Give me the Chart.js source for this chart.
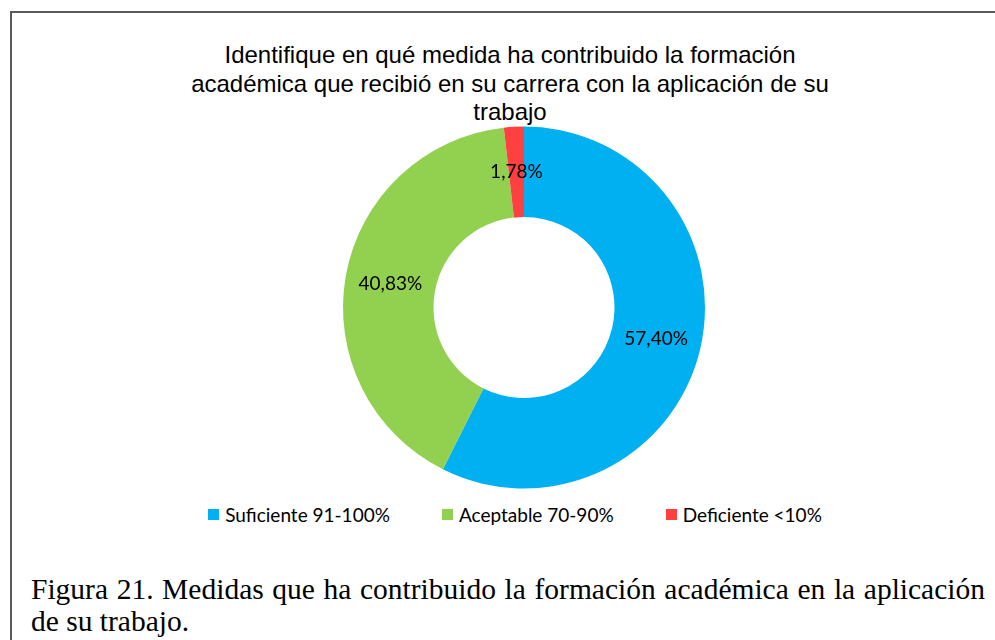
<!DOCTYPE html>
<html>
<head>
<meta charset="utf-8">
<script src="https://cdn.jsdelivr.net/npm/chart.js@4"></script>
<style>
  html, body { margin: 0; padding: 0; background: #fff; overflow: hidden; width: 995px; height: 640px; }
  #frame { position: absolute; left: 10px; top: 11px; width: 1100px; height: 800px; border: 2px solid #5a5a5a; box-sizing: border-box; }
  #titulo { position: absolute; left: 10px; top: 41px; width: 1000px; text-align: center;
            font: 24px "Liberation Sans", Arial, sans-serif; line-height: 28.5px; color: #000; }
  #wrap { position: absolute; left: 24px; top: 120px; width: 1000px; height: 375px; }
  #leyenda { position: absolute; left: 0; top: 503px; width: 1030px; display: flex; justify-content: center;
             font: 19px Lato, sans-serif; color: #000; }
  #leyenda .item { display: flex; align-items: center; margin: 0 26px; }
  #leyenda .box { width: 11px; height: 11px; margin-right: 6px; }
  #caption { position: absolute; left: 31px; top: 573px; width: 954px;
             font: 29.5px "Liberation Serif", "Times New Roman", serif; line-height: 32px; color: #000; }
  #caption .l1 { text-align: justify; text-align-last: justify; }
</style>
</head>
<body>
<div id="frame"></div>
<div id="titulo">Identifique en qué medida ha contribuido la formación<br>académica que recibió en su carrera con la aplicación de su<br>trabajo</div>
<div id="wrap"><canvas id="dona"></canvas></div>
<div id="leyenda"></div>
<div id="caption">
  <div class="l1">Figura 21. Medidas que ha contribuido la formación académica en la aplicación</div>
  <div>de su trabajo.</div>
</div>
<script>
var categorias = ["Suficiente 91-100%", "Aceptable 70-90%", "Deficiente <10%"];
var porcentajes = [57.40, 40.83, 1.78];
var colores = ["#00b0f0", "#92d050", "#ff4040"];

// etiquetas con coma decimal, en el centro de cada sector
var etiquetas = {
  id: "etiquetas",
  afterDatasetsDraw: function (chart) {
    var c = chart.ctx;
    var meta = chart.getDatasetMeta(0);
    c.save();
    c.font = "19px Lato, sans-serif";
    c.fillStyle = "#000";
    c.textAlign = "center";
    c.textBaseline = "middle";
    meta.data.forEach(function (arc, i) {
      var p = arc.tooltipPosition();
      c.fillText(porcentajes[i].toFixed(2).replace(".", ",") + "%", p.x, p.y);
    });
    c.restore();
  }
};

// leyenda en html a partir de los items que genera chart.js
var leyendaHtml = {
  id: "leyendaHtml",
  afterUpdate: function (chart) {
    var cont = document.getElementById("leyenda");
    cont.innerHTML = "";
    var items = chart.options.plugins.legend.labels.generateLabels(chart);
    items.forEach(function (it) {
      var d = document.createElement("div");
      d.className = "item";
      var b = document.createElement("span");
      b.className = "box";
      b.style.background = it.fillStyle;
      var t = document.createElement("span");
      t.textContent = it.text;
      d.appendChild(b);
      d.appendChild(t);
      cont.appendChild(d);
    });
  }
};

var ctx = document.getElementById("dona");
var grafico = new Chart(ctx, {
  type: "doughnut",
  data: {
    labels: categorias,
    datasets: [{
      data: porcentajes,
      backgroundColor: colores,
      borderWidth: 0,
      radius: 181,
      cutout: "50%"
    }]
  },
  options: {
    responsive: true,
    maintainAspectRatio: false,
    animation: false,
    layout: { padding: 0 },
    plugins: {
      legend: { display: false },
      tooltip: { enabled: false },
      title: { display: false }
    }
  },
  plugins: [etiquetas, leyendaHtml]
});
</script>
</body>
</html>
